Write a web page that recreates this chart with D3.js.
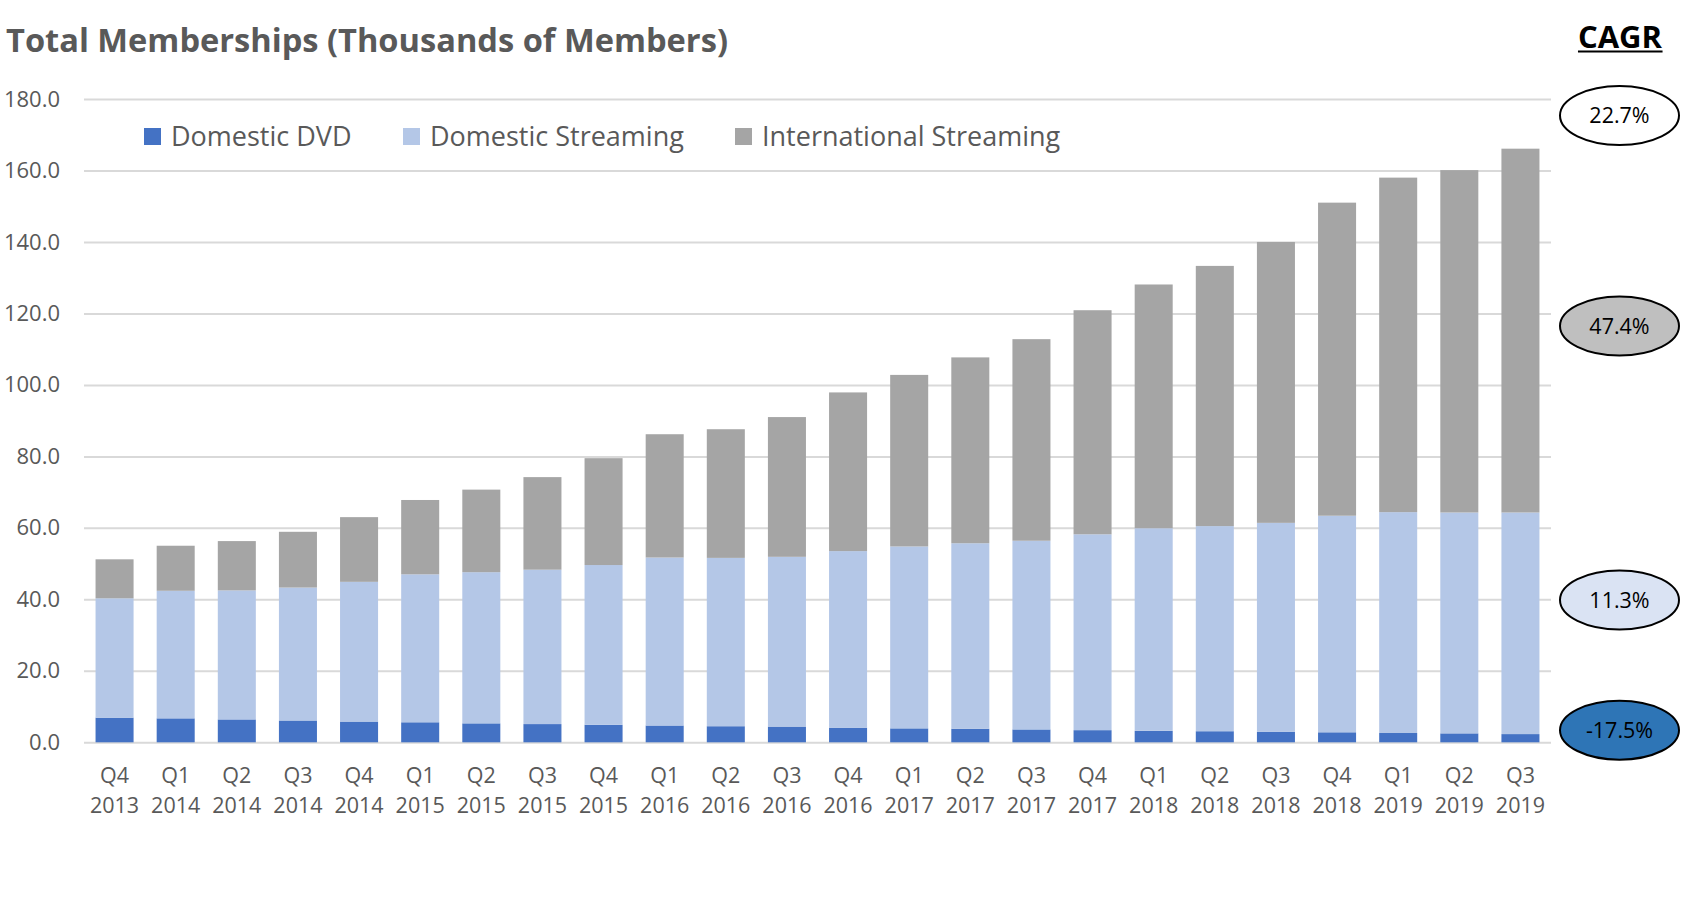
<!DOCTYPE html>
<html>
<head>
<meta charset="utf-8">
<script src="https://cdn.jsdelivr.net/npm/d3@7/dist/d3.min.js"></script>
<style>
  body { margin: 0; background: #fff; }
  text { font-family: "Open Sans", sans-serif; }
</style>
</head>
<body>
<div id="chart"></div>
<script>
// Chart data (millions / "thousands" as labelled)
var quarters = ["Q4 2013", "Q1 2014", "Q2 2014", "Q3 2014", "Q4 2014", "Q1 2015",
  "Q2 2015", "Q3 2015", "Q4 2015", "Q1 2016", "Q2 2016", "Q3 2016", "Q4 2016",
  "Q1 2017", "Q2 2017", "Q3 2017", "Q4 2017", "Q1 2018", "Q2 2018", "Q3 2018",
  "Q4 2018", "Q1 2019", "Q2 2019", "Q3 2019"];

var domesticDVD = [6.9, 6.7, 6.4, 6.1, 5.8, 5.6, 5.3, 5.1, 4.9, 4.7, 4.5, 4.4,
  4.1, 3.9, 3.8, 3.6, 3.4, 3.2, 3.1, 2.9, 2.8, 2.6, 2.5, 2.3];

var domesticStreaming = [33.4, 35.7, 36.1, 37.2, 39.1, 41.4, 42.3, 43.2, 44.7,
  47.0, 47.1, 47.5, 49.4, 50.9, 51.9, 52.8, 54.8, 56.7, 57.4, 58.5, 60.6, 61.8,
  61.8, 62.0];

var intlStreaming = [10.9, 12.6, 13.8, 15.6, 18.1, 20.8, 23.1, 25.9, 29.9, 34.5,
  36.0, 39.1, 44.4, 48.0, 52.0, 56.4, 62.7, 68.2, 72.8, 78.6, 87.6, 93.6, 95.8,
  101.8];

var seriesNames = ["Domestic DVD", "Domestic Streaming", "International Streaming"];
var seriesColors = ["#4472c4", "#b4c7e7", "#a5a5a5"];

var yTicks = [0, 20, 40, 60, 80, 100, 120, 140, 160, 180];

// CAGR call-outs, top to bottom, placed at a value on the y scale
var cagrLabels = ["22.7%", "47.4%", "11.3%", "-17.5%"];
var cagrFills = ["#ffffff", "#bfbfbf", "#dae3f3", "#2e75b6"];
var cagrAt = [175.4, 116.5, 39.8, 3.4];

// Layout
var width = 1687;
var height = 900;
var plotLeft = 84;
var plotRight = 1551;
var plotTop = 99;
var plotBottom = 742.3;
var textGray = "#595959";
var gridColor = "#d9d9d9";

var svg = d3.select("#chart")
  .append("svg")
  .attr("width", width)
  .attr("height", height);

svg.append("rect").attr("width", width).attr("height", height).attr("fill", "#fff");

// Build table for the stack
var keys = ["dvd", "dom", "intl"];
var table = quarters.map(function(q, i) {
  return { q: q, dvd: domesticDVD[i], dom: domesticStreaming[i], intl: intlStreaming[i] };
});
var stacked = d3.stack().keys(keys)(table);

var xScale = d3.scaleBand()
  .domain(quarters)
  .range([plotLeft, plotRight])
  .paddingInner(0.378)
  .paddingOuter(0.189);

var yScale = d3.scaleLinear()
  .domain([0, 180])
  .range([plotBottom, plotTop]);

// Gridlines + y labels
var yAxis = d3.axisLeft(yScale)
  .tickValues(yTicks)
  .tickSize(-(plotRight - plotLeft))
  .tickPadding(24)
  .tickFormat(d3.format(".1f"));

var yG = svg.append("g")
  .attr("class", "yAxis")
  .attr("transform", "translate(" + plotLeft + ",0)")
  .call(yAxis);
yG.select(".domain").remove();
yG.selectAll(".tick line").attr("stroke", gridColor).attr("stroke-width", 2);
yG.selectAll(".tick text")
  .attr("fill", textGray)
  .attr("font-size", "22px")
  .attr("font-family", "Open Sans, sans-serif");

// Bars
svg.append("g")
  .selectAll("g")
  .data(stacked)
  .enter()
  .append("g")
  .attr("fill", function(d, i) { return seriesColors[i]; })
  .selectAll("rect")
  .data(function(d) { return d; })
  .enter()
  .append("rect")
  .attr("x", function(d) { return xScale(d.data.q); })
  .attr("width", xScale.bandwidth())
  .attr("y", function(d) { return yScale(d[1]); })
  .attr("height", function(d) { return yScale(d[0]) - yScale(d[1]); });

// x labels, two lines each
var xLabels = svg.append("g").attr("class", "xText");
quarters.forEach(function(q) {
  var parts = q.split(" ");
  var cx = xScale(q) + xScale.bandwidth() / 2;
  var t = xLabels.append("text")
    .attr("text-anchor", "middle")
    .attr("fill", textGray)
    .attr("font-size", "21.5px");
  t.append("tspan").attr("x", cx).attr("y", 783).text(parts[0]);
  t.append("tspan").attr("x", cx).attr("y", 813).text(parts[1]);
});

// Title
var title = svg.append("text")
  .attr("x", 6)
  .attr("y", 52)
  .attr("fill", textGray)
  .attr("font-weight", "bold")
  .attr("font-size", "33px")
  .text("Total Memberships (Thousands of Members)");
// fit to the reference's title width
var tw = title.node().getComputedTextLength();
title.attr("font-size", (33 * 722 / tw) + "px");

// Legend
var legendX = [144, 403, 735];
var legend = svg.append("g").attr("class", "legend");
seriesNames.forEach(function(name, i) {
  legend.append("rect")
    .attr("x", legendX[i])
    .attr("y", 128)
    .attr("width", 17)
    .attr("height", 17)
    .attr("fill", seriesColors[i]);
  legend.append("text")
    .attr("x", legendX[i] + 27)
    .attr("y", 146)
    .attr("fill", textGray)
    .attr("font-size", "27px")
    .text(name);
});

// CAGR heading
var cagr = svg.append("text")
  .attr("x", 1620)
  .attr("y", 48)
  .attr("text-anchor", "middle")
  .attr("font-weight", "bold")
  .attr("font-size", "31px")
  .attr("fill", "#000")
  .text("CAGR");
var cb = cagr.node().getBBox();
svg.append("line")
  .attr("x1", cb.x).attr("x2", cb.x + cb.width)
  .attr("y1", 51.5).attr("y2", 51.5)
  .attr("stroke", "#000").attr("stroke-width", 2);

// CAGR ellipses
var bubbles = svg.append("g").attr("class", "cagr");
cagrLabels.forEach(function(lab, i) {
  var cy = yScale(cagrAt[i]);
  bubbles.append("ellipse")
    .attr("cx", 1619.5)
    .attr("cy", cy)
    .attr("rx", 59.5)
    .attr("ry", 29.5)
    .attr("fill", cagrFills[i])
    .attr("stroke", "#000")
    .attr("stroke-width", 2);
  bubbles.append("text")
    .attr("x", 1619.5)
    .attr("y", cy)
    .attr("dy", "0.36em")
    .attr("text-anchor", "middle")
    .attr("font-size", "21.5px")
    .attr("fill", "#000")
    .text(lab);
});
</script>
</body>
</html>
